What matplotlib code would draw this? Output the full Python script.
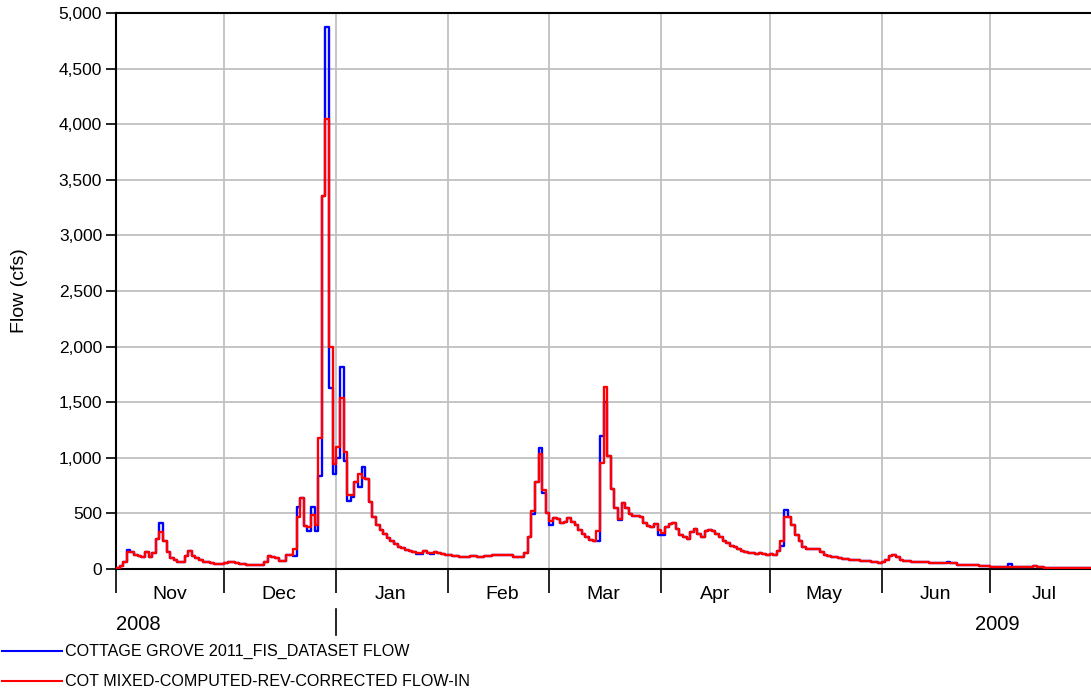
import numpy as np
import matplotlib
matplotlib.use('Agg')
import matplotlib.pyplot as plt
import matplotlib.dates as mdates
import matplotlib.ticker as mticker
import matplotlib.transforms as mtransforms
from matplotlib.lines import Line2D

# daily flow (cfs), COT MIXED-COMPUTED-REV-CORRECTED FLOW-IN (red)
nov_in = [12, 25, 65, 155, 150, 130, 120, 110, 150, 110, 140, 268, 333, 253, 150,
          100, 80, 65, 65, 120, 160, 120, 95, 77, 65, 60, 50, 48, 42, 42]
dec_in = [50, 59, 59, 50, 43, 43, 40, 40, 36, 33, 33, 66, 115, 112, 100, 72,
          72, 122, 122, 180, 470, 640, 390, 380, 490, 400, 1180, 3355, 4050, 2000, 940]
jan_in = [1100, 1536, 1048, 668, 668, 778, 853, 817, 808, 599, 464, 398, 353, 314, 278, 254,
          224, 200, 186, 171, 159, 153, 144, 147, 159, 147, 147, 153, 147, 138, 129]
feb_in = [125, 120, 115, 110, 108, 105, 120, 115, 112, 112, 118, 120, 122, 128,
          130, 130, 128, 122, 112, 105, 105, 140, 290, 520, 780, 1030, 714, 500]
mar_in = [430, 460, 450, 418, 422, 458, 425, 392, 352, 316, 292, 262, 255, 346, 950, 1636,
          1015, 723, 551, 452, 590, 551, 491, 480, 473, 470, 413, 385, 382, 407, 352]
apr_in = [320, 380, 404, 410, 359, 308, 290, 270, 329, 359, 314, 290, 338, 350, 340,
          314, 284, 254, 230, 210, 195, 180, 165, 156, 147, 141, 135, 144, 138, 128]
may_in = [135, 130, 160, 250, 464, 464, 397, 306, 250, 197, 182, 182, 176, 176, 155, 130,
          121, 112, 106, 100, 94, 88, 85, 82, 79, 76, 73, 70, 67, 64, 55]
jun_in = [60, 85, 115, 124, 109, 85, 73, 70, 64, 64, 64, 64, 64, 52, 52,
          52, 52, 52, 56, 58, 56, 40, 40, 40, 32, 32, 32, 25, 25, 25]
jul_in = [20, 18, 17, 16, 15, 17, 17, 16, 16, 15, 15, 15, 25, 20, 15, 13,
          12, 12, 11, 10, 10, 10, 9, 9, 8, 8, 7, 7, 6, 6, 6]

# days where COTTAGE GROVE 2011_FIS_DATASET FLOW (blue) differs from the red series
fis_diff = {
    '2008-11-04': 170, '2008-11-13': 410, '2008-12-20': 120, '2008-12-21': 560,
    '2008-12-24': 345, '2008-12-25': 560, '2008-12-26': 345, '2008-12-27': 840,
    '2008-12-29': 4870, '2008-12-30': 1630, '2008-12-31': 855, '2009-01-01': 1000,
    '2009-01-02': 1817, '2009-01-03': 973, '2009-01-04': 614, '2009-01-05': 644,
    '2009-01-07': 740, '2009-01-08': 913, '2009-01-23': 135, '2009-01-24': 135,
    '2009-01-27': 135, '2009-02-24': 497, '2009-02-26': 1090, '2009-02-27': 685,
    '2009-03-01': 400, '2009-03-14': 255, '2009-03-15': 1196, '2009-03-16': 1500,
    '2009-03-20': 440, '2009-03-31': 310, '2009-04-01': 308, '2009-05-04': 206,
    '2009-05-05': 533, '2009-06-19': 62, '2009-07-06': 45,
}

month_labels = ['Nov', 'Dec', 'Jan', 'Feb', 'Mar', 'Apr', 'May', 'Jun', 'Jul']
legend_labels = ['COTTAGE GROVE 2011_FIS_DATASET FLOW',
                 'COT MIXED-COMPUTED-REV-CORRECTED FLOW-IN']

flow_in = np.array(nov_in + dec_in + jan_in + feb_in + mar_in + apr_in
                   + may_in + jun_in + jul_in, dtype=float)
days = np.arange('2008-11-01', '2009-08-01', dtype='datetime64[D]')
flow_fis = flow_in.copy()
for d, v in fis_diff.items():
    flow_fis[days == np.datetime64(d)] = v

# step edges: each value holds for its whole day
edges = np.append(days, days[-1] + 1).astype('datetime64[s]').astype(object)
fis_y = np.append(flow_fis, flow_fis[-1])
in_y = np.append(flow_in, flow_in[-1])

plt.rcParams['font.family'] = ['Liberation Sans', 'DejaVu Sans']

fig = plt.figure(figsize=(10.91, 6.94), dpi=100)
ax = fig.add_axes([116 / 1091, 1 - 569 / 694, 1 - 116 / 1091 + 0.01, (569 - 13) / 694])

ax.step(edges, fis_y, where='post', color='#0000ff', lw=1.7, zorder=3)
ax.step(edges, in_y, where='post', color='#ff0000', lw=1.7, zorder=4)

ax.set_xlim(edges[0], edges[-1])
ax.set_ylim(0, 5000)

# y axis
ax.yaxis.set_major_locator(mticker.MultipleLocator(500))
ax.yaxis.set_major_formatter(mticker.StrMethodFormatter('{x:,.0f}'))
ax.tick_params(axis='y', direction='out', length=7, width=1.2, labelsize=12.5, pad=3)
ax.set_ylabel('Flow (cfs)', fontsize=14)
ax.yaxis.set_label_coords(-0.089, 0.5)

# x axis: month boundaries as ticks, month names centred in between
ax.xaxis.set_major_locator(mdates.MonthLocator())
ax.xaxis.set_major_formatter(mticker.NullFormatter())
ax.xaxis.set_minor_locator(mdates.MonthLocator(bymonthday=16))
ax.xaxis.set_minor_formatter(mticker.FixedFormatter(month_labels))
ax.tick_params(axis='x', which='major', direction='out', length=17.5, width=1.2)
ax.tick_params(axis='x', which='minor', length=0, labelsize=14, pad=12)

ax.grid(True, which='major', color='#c0c0c0', lw=1.3, zorder=0)
ax.set_axisbelow(True)

for side in ['left', 'bottom', 'top']:
    ax.spines[side].set_linewidth(1.5)
ax.spines['right'].set_visible(False)

# year row
trans = mtransforms.blended_transform_factory(ax.transData, ax.transAxes)
ax.add_line(Line2D([mdates.date2num(np.datetime64('2009-01-01'))] * 2, [-0.072, -0.119],
                   transform=trans, color='black', lw=1.2, clip_on=False))
ax.text(0.0, -0.1, '2008', transform=ax.transAxes, fontsize=14.5, ha='left', va='center')
ax.text(0.871, -0.1, '2009', transform=ax.transAxes, fontsize=14.5, ha='left', va='center')

# legend below the axes
for i, (lab, col) in enumerate(zip(legend_labels, ['#0000ff', '#ff0000'])):
    yf = 1 - (651 + 30 * i) / 694
    fig.add_artist(Line2D([2 / 1091, 62 / 1091], [yf, yf], color=col, lw=1.5))
    fig.text(65 / 1091, yf, lab, fontsize=11.6, ha='left', va='center')

fig.savefig('out.png', dpi=100)
